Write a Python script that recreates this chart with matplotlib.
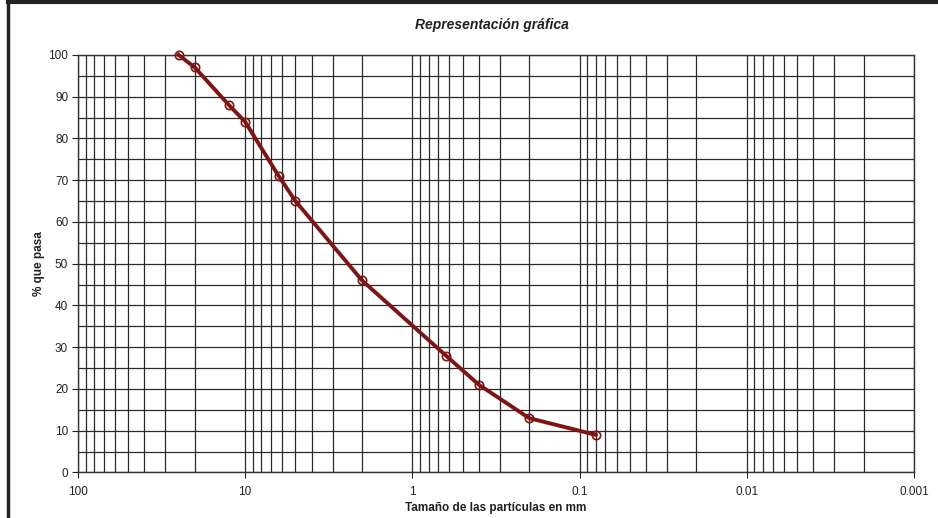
import numpy as np
import matplotlib
matplotlib.use("Agg")
import matplotlib.pyplot as plt
from matplotlib.ticker import LogLocator, FixedLocator, NullFormatter
from matplotlib.lines import Line2D

plt.rcParams['font.family'] = ['Liberation Sans', 'DejaVu Sans']

# Curva granulométrica
tamiz_mm = [25, 20, 12.5, 10, 6.3, 5, 2, 0.63, 0.4, 0.2, 0.08]
pasa = [100, 97, 88, 84, 71, 65, 46, 28, 21, 13, 9]
x_ticks = [100, 10, 1, 0.1, 0.01, 0.001]
x_labels = ["100", "10", "1", "0.1", "0.01", "0.001"]

fig = plt.figure(figsize=(9.38, 5.18), dpi=100)
ax = fig.add_axes([0.083, 0.088, 0.8914, 0.806])

ax.set_xscale('log')
ax.set_xlim(100, 0.001)
ax.set_ylim(0, 100)

ax.xaxis.set_major_locator(FixedLocator(x_ticks))
ax.set_xticklabels(x_labels)
ax.xaxis.set_minor_locator(LogLocator(base=10, subs=np.arange(2, 10)))
ax.xaxis.set_minor_formatter(NullFormatter())
ax.set_yticks(range(0, 101, 10))
ax.set_yticks(range(5, 100, 10), minor=True)

ax.grid(True, which='both', axis='both', color='#2a2a2a', linewidth=0.9)
ax.tick_params(axis='both', which='major', direction='out', length=4, width=0.8,
               labelsize=8.5, colors='#222222', pad=3)
ax.tick_params(axis='x', which='major', pad=6)
ax.tick_params(axis='x', which='minor', length=0)
ax.tick_params(axis='y', which='minor', length=0)
for s in ax.spines.values():
    s.set_color('#333333')
    s.set_linewidth(1.0)

ax.plot(tamiz_mm, pasa, color='#7f1414', linewidth=2.8, marker='o', markersize=6,
        markerfacecolor='none', markeredgecolor='#7f1414', markeredgewidth=1.2,
        zorder=5, clip_on=False)

ax.set_xlabel('Tamaño de las partículas en mm', fontsize=8.5, fontweight='bold',
              color='#222222', labelpad=3)
ax.set_ylabel('% que pasa', fontsize=8.5, fontweight='bold', color='#222222', labelpad=2.5)
fig.text(0.5245, 0.951, 'Representación gráfica', ha='center', va='center',
         fontsize=10, fontweight='bold', fontstyle='italic', color='#222222')

# marco del gráfico
fig.add_artist(Line2D([0.0085, 1.0], [0.997, 0.997], color='#222222', linewidth=3,
                      transform=fig.transFigure))
fig.add_artist(Line2D([0.0085, 0.0085], [0.0, 0.997], color='#222222', linewidth=2.5,
                      transform=fig.transFigure))

fig.savefig('out.png', dpi=100)
